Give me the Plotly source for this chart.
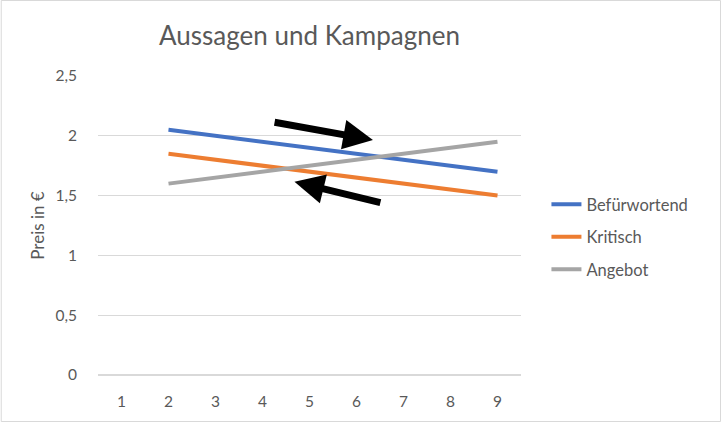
import plotly.graph_objects as go

categories = [1, 2, 3, 4, 5, 6, 7, 8, 9]
befuerwortend = [None, 2.05, 2.00, 1.95, 1.90, 1.85, 1.80, 1.75, 1.70]
kritisch = [None, 1.85, 1.80, 1.75, 1.70, 1.65, 1.60, 1.55, 1.50]
angebot = [None, 1.60, 1.65, 1.70, 1.75, 1.80, 1.85, 1.90, 1.95]
y_ticks = [0, 0.5, 1, 1.5, 2, 2.5]
y_tick_labels = ["0", "0,5", "1", "1,5", "2", "2,5"]

# arrows: (tail_x, tail_y, head_x, head_y) in data units
arrows = [(4.225, 2.115, 6.35, 1.965), (6.54, 1.438, 4.68, 1.615)]

FONT = "Lato"
TXT = "#595959"

fig = go.Figure()
for name, vals, col, grp in [("Befürwortend", befuerwortend, "#4472C4", "a"),
                             ("Kritisch", kritisch, "#ED7D31", "b"),
                             ("Angebot", angebot, "#A5A5A5", "c")]:
    fig.add_trace(go.Scatter(x=categories, y=vals, mode="lines", name=name,
                             legendgroup=grp,
                             line=dict(color=col, width=4)))

for tx, ty, hx, hy in arrows:
    fig.add_annotation(x=hx, y=hy, ax=tx, ay=ty, xref="x", yref="y",
                       axref="x", ayref="y", showarrow=True, text="",
                       arrowhead=2, arrowsize=0.85, arrowwidth=7,
                       arrowcolor="black")

W, H = 722, 422
L, R, T, B = 97.5, 200.5, 76, 47
pw, ph = W - L - R, H - T - B
fig.add_shape(type="rect", xref="paper", yref="paper",
              x0=(0.5 - L) / pw, x1=(W - 0.5 - L) / pw,
              y0=-(B - 0.5) / ph, y1=(ph + T - 0.5) / ph,
              line=dict(color="#D9D9D9", width=1), layer="below")

fig.update_layout(
    width=W, height=H,
    margin=dict(l=L, r=R, t=T, b=B, pad=0, autoexpand=False),
    paper_bgcolor="white", plot_bgcolor="white",
    font=dict(family=FONT, color=TXT, size=14),
    title=dict(text="Aussagen und Kampagnen", x=(L + pw / 2) / W, xanchor="center",
               y=1 - 36 / H, yanchor="middle",
               font=dict(size=26, color=TXT, family=FONT)),
    xaxis=dict(range=[0.5, 9.5], tickvals=categories, ticktext=[str(c) for c in categories],
               showgrid=False, zeroline=False, showline=False,
               ticks="outside", ticklen=12, tickcolor="rgba(0,0,0,0)",
               tickfont=dict(size=15.5, color=TXT), fixedrange=True),
    yaxis=dict(range=[0, 2.5], tickvals=y_ticks, ticktext=y_tick_labels,
               showgrid=True, gridcolor="#D9D9D9", gridwidth=1,
               zeroline=True, zerolinecolor="#D9D9D9", zerolinewidth=1.5,
               showline=False, ticks="outside", ticklen=17, tickcolor="rgba(0,0,0,0)",
               tickfont=dict(size=15.5, color=TXT), fixedrange=True,
               title=dict(text="Preis in €", font=dict(size=17, color=TXT), standoff=6)),
    legend=dict(x=(547 - L) / pw, y=(375 - 237) / ph, xanchor="left", yanchor="middle",
                font=dict(size=16.5, color=TXT), tracegroupgap=8,
                traceorder="grouped", bgcolor="rgba(0,0,0,0)", itemwidth=30),
    showlegend=True,
)

fig.write_html("out.html", config={"displayModeBar": False},
               post_script="document.body.style.margin='0';document.body.style.padding='0';")
